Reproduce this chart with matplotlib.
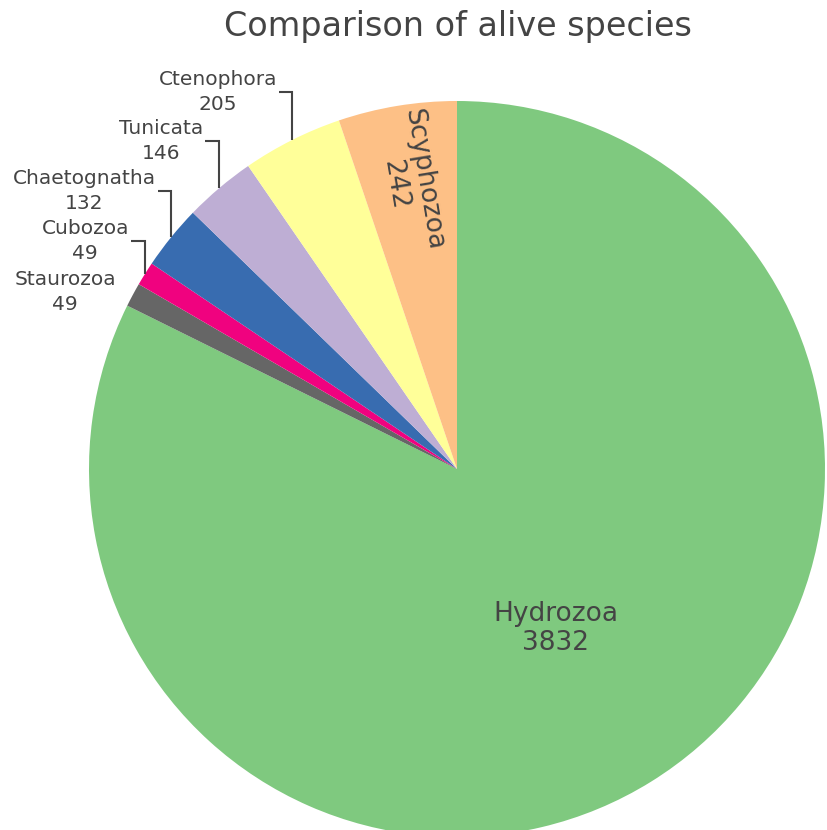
import numpy as np
import matplotlib
matplotlib.use("Agg")
import matplotlib.pyplot as plt

# Species counts per group
groups = ["Hydrozoa", "Staurozoa", "Cubozoa", "Chaetognatha", "Tunicata", "Ctenophora", "Scyphozoa"]
counts = [3832, 49, 49, 132, 146, 205, 242]
colors = ["#7fc97f", "#666666", "#f0027f", "#386cb0", "#beaed4", "#ffff99", "#fdc086"]

W, H = 827, 830
TXT = "#444444"
CX, CY, R = 457, 469, 368          # pie centre / radius in pixels (top-down y)

fig = plt.figure(figsize=(W / 100, H / 100), dpi=100)
ax = fig.add_axes([0, 0, 1, 1])

def up(y):
    return H - y

wedges, _ = ax.pie(counts, colors=colors, startangle=90, counterclock=False,
                   center=(CX, up(CY)), radius=R,
                   wedgeprops=dict(linewidth=0, antialiased=True))
ax.set_aspect("auto")
ax.set_xlim(0, W)
ax.set_ylim(0, H)
ax.axis("off")

# mid angle of each wedge (degrees, counter-clockwise from +x)
total = sum(counts)
ends = 90 - np.cumsum(counts) / total * 360
starts = np.concatenate([[90], ends[:-1]])
mids = dict(zip(groups, (starts + ends) / 2))

def polar(name, frac):
    a = np.deg2rad(mids[name])
    return CX + frac * R * np.cos(a), CY - frac * R * np.sin(a)

# labels inside the large wedges
x, y = polar("Hydrozoa", 0.51)
ax.text(x, up(y), "Hydrozoa\n3832", ha="center", va="center", fontsize=19,
        color=TXT, linespacing=1.15)

x, y = polar("Scyphozoa", 0.79)
rot = mids["Scyphozoa"] - 180
ax.text(x, up(y), "Scyphozoa\n242", ha="center", va="center", fontsize=19,
        color=TXT, rotation=rot, rotation_mode="anchor", linespacing=1.15)

# outside labels with elbow leader lines
outside = ["Ctenophora", "Tunicata", "Chaetognatha", "Cubozoa", "Staurozoa"]
label_right = [277, 203, 156, 129, 116]
label_y = [92, 141, 191, 241, 292]
for name, xr, ly in zip(outside, label_right, label_y):
    val = counts[groups.index(name)]
    ax.text(xr, up(ly), f"{name}\n{val}", ha="right", va="center",
            multialignment="center", fontsize=14.5, color=TXT, linespacing=1.42)
    ex, ey = polar(name, 1.0)
    if ex - xr > 4 and ey - ly > 4:
        ax.plot([xr + 2, ex, ex], [up(ly), up(ly), up(ey)], color=TXT,
                lw=1.5, solid_capstyle="butt", solid_joinstyle="miter")

ax.text(458, up(27), "Comparison of alive species", ha="center", va="center",
        fontsize=24, color=TXT)

fig.savefig("out.png", dpi=100, facecolor="white")
